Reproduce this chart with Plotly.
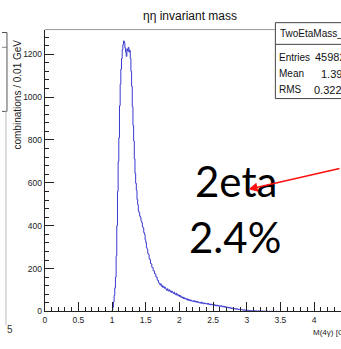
import numpy as np
import plotly.graph_objects as go

W, H = 341, 349

# ---- data: counts per 0.01 GeV bin, starting at 1.00 GeV ----
bin_start = 1.00
bin_width = 0.01
counts = [
    5, 20, 45, 75, 110, 160, 260, 400, 560, 700,
    810, 960, 1060, 1130, 1180, 1220, 1245, 1262, 1255, 1230,
    1210, 1190, 1225, 1215, 1232, 1210, 1218, 1180, 1120, 1050,
    955, 868, 795, 712, 645, 598, 566, 522, 498, 468,
    460, 445, 438, 421, 414, 396, 389, 368, 360, 335,
    322, 298, 290, 270, 266, 247, 241, 224, 222, 206,
    205, 190, 189, 176, 175, 161, 160, 146, 145, 134,
    131, 124, 129, 118, 121, 113, 117, 109, 114, 106,
    104, 99, 106, 95, 98, 101, 92, 96, 89, 93,
    88, 84, 90, 81, 79, 85, 76, 80, 73, 77,
    70, 74, 66, 69, 63, 67, 60, 64, 58, 61,
    56, 59, 53, 57, 51, 55, 49, 53, 50, 47,
    48, 51, 45, 49, 44, 47, 42, 46, 43, 40,
    42, 39, 44, 38, 41, 36, 40, 37, 39, 35,
    36, 38, 33, 37, 32, 35, 31, 34, 30, 33,
    31, 28, 32, 27, 30, 26, 29, 25, 28, 24,
    26, 24, 27, 22, 25, 21, 24, 20, 23, 19,
    21, 18, 20, 16, 19, 15, 18, 14, 16, 13,
    15, 12, 14, 11, 13, 10, 12, 9, 11, 9,
    10, 8, 9, 7, 8, 6, 8, 5, 7, 5,
    6, 4, 5, 3, 5, 4, 3, 4, 2, 3,
    4, 2, 3, 2, 3, 1, 2, 3, 1, 2,
    3, 1, 2, 1, 2, 1, 1, 2, 0, 1,
    2, 1, 0, 1, 1, 0, 1, 0, 1, 0,
    1, 0, 0, 1, 0, 0, 0, 0, 0, 0,
]
x_tickvals = [0, 0.5, 1, 1.5, 2, 2.5, 3, 3.5, 4]
x_ticktext = ["0", "0.5", "1", "1.5", "2", "2.5", "3", "3.5", "4"]
y_tickvals = [0, 200, 400, 600, 800, 1000, 1200]

title_text = "ηη invariant mass"
x_title = "M(4γ) [GeV]"
y_title = "combinations / 0.01 GeV"
stats_name = "TwoEtaMass_"
stats_labels = ["Entries", "Mean", "RMS"]
stats_values = ["45982", "1.393", "0.3227"]

# ---- helpers: pixel -> paper ----
def px(x):
    return x / W

def py(y):
    return 1 - y / H

edges = bin_start + bin_width * np.arange(len(counts) + 1)
xs = [edges[0]] + list(edges[:-1]) + [edges[-1]]
ys = [0] + counts + [0]

fig = go.Figure()
fig.add_trace(go.Scatter(
    x=xs, y=ys, mode="lines", line=dict(color="#3a3ad0", width=1, shape="hv"),
    hoverinfo="skip", showlegend=False,
))

narrow = "Liberation Sans Narrow, Liberation Sans, Arial"
tickfont = dict(family=narrow, size=8.5, color="#222")

fig.update_layout(
    width=W, height=H, margin=dict(l=0, r=0, t=0, b=0),
    paper_bgcolor="white", plot_bgcolor="white",
    xaxis=dict(
        domain=[px(43), 1], range=[0, 4.40], showgrid=False, zeroline=False,
        showline=True, linecolor="#222", linewidth=1,
        ticks="inside", ticklen=9, tickcolor="#222", tickwidth=1,
        tickvals=x_tickvals, ticktext=x_ticktext, tickfont=tickfont,
        minor=dict(ticks="inside", ticklen=4, dtick=0.1, tick0=0, tickcolor="#222"),
    ),
    yaxis=dict(
        domain=[py(316), py(30)], range=[0, 1315], showgrid=False, zeroline=False,
        showline=True, linecolor="#222", linewidth=1,
        ticks="inside", ticklen=9, tickcolor="#222", tickwidth=1,
        tickvals=y_tickvals, tickfont=tickfont,
        minor=dict(ticks="inside", ticklen=4, dtick=40, tick0=0, tickcolor="#222"),
    ),
)

shapes = []
annotations = []

# frame top line
shapes.append(dict(type="line", xref="paper", yref="paper",
                   x0=px(43), x1=px(275), y0=py(30), y1=py(30),
                   line=dict(color="#999", width=1)))

# stats box
shapes.append(dict(type="rect", xref="paper", yref="paper",
                   x0=px(275), x1=px(360), y0=py(100), y1=py(23),
                   line=dict(color="#444", width=1), fillcolor="white"))
shapes.append(dict(type="line", xref="paper", yref="paper",
                   x0=px(275), x1=px(360), y0=py(45), y1=py(45),
                   line=dict(color="#444", width=1)))
annotations.append(dict(xref="paper", yref="paper", x=px(278), y=py(34),
                        text=stats_name, showarrow=False, xanchor="left", yanchor="middle",
                        font=dict(family=narrow, size=10, color="#111")))
for lab, val, yy, vx in zip(stats_labels, stats_values, [58, 75, 91], [313, 319, 312]):
    annotations.append(dict(xref="paper", yref="paper", x=px(277), y=py(yy),
                            text=lab, showarrow=False, xanchor="left", yanchor="middle",
                            font=dict(family=narrow, size=10, color="#111")))
    annotations.append(dict(xref="paper", yref="paper", x=px(vx), y=py(yy),
                            text=val, showarrow=False, xanchor="left", yanchor="middle",
                            font=dict(family=narrow, size=11, color="#111")))

# title
annotations.append(dict(xref="paper", yref="paper", x=px(189), y=py(16),
                        text=title_text, showarrow=False, xanchor="center", yanchor="middle",
                        font=dict(family=narrow, size=12, color="#111")))

# axis titles
annotations.append(dict(xref="paper", yref="paper", x=px(16), y=py(96),
                        text=y_title, showarrow=False, textangle=-90,
                        xanchor="center", yanchor="middle",
                        font=dict(family="Liberation Sans, Arial", size=10, color="#222")))
annotations.append(dict(xref="paper", yref="paper", x=px(311), y=py(337),
                        text=x_title, showarrow=False, xanchor="left", yanchor="middle",
                        font=dict(family=narrow, size=8, color="#222")))

# slide text
annotations.append(dict(xref="paper", yref="paper", x=px(235), y=py(184),
                        text="2eta", showarrow=False, xanchor="center", yanchor="middle",
                        font=dict(family="Lato, Open Sans", size=42, color="black")))
annotations.append(dict(xref="paper", yref="paper", x=px(234), y=py(240),
                        text="2.4%", showarrow=False, xanchor="center", yanchor="middle",
                        font=dict(family="Lato, Open Sans", size=42, color="black")))

# red arrow (tail offset in pixels from the head)
annotations.append(dict(xref="paper", yref="paper", x=px(248), y=py(192),
                        ax=97, ay=-21, axref="pixel", ayref="pixel",
                        text="", showarrow=True, arrowhead=2, arrowsize=1.2,
                        arrowwidth=1.5, arrowcolor="#ff1010"))

# left-edge fragments of neighbouring slide content
shapes.append(dict(type="line", xref="paper", yref="paper",
                   x0=0, x1=px(5), y0=py(33), y1=py(33), line=dict(color="#555", width=1)))
shapes.append(dict(type="line", xref="paper", yref="paper",
                   x0=0, x1=px(5), y0=py(48), y1=py(48), line=dict(color="#888", width=1)))
shapes.append(dict(type="line", xref="paper", yref="paper",
                   x0=px(5), x1=px(5), y0=py(33), y1=py(113), line=dict(color="#555", width=1)))
shapes.append(dict(type="line", xref="paper", yref="paper",
                   x0=0, x1=px(5), y0=py(113), y1=py(113), line=dict(color="#555", width=1)))
shapes.append(dict(type="line", xref="paper", yref="paper",
                   x0=px(4), x1=px(4), y0=py(113), y1=py(330), line=dict(color="#bbb", width=1)))
annotations.append(dict(xref="paper", yref="paper", x=px(8), y=py(334),
                        text="5", showarrow=False, xanchor="center", yanchor="middle",
                        font=dict(family=narrow, size=10, color="#333")))

fig.update_layout(shapes=shapes, annotations=annotations)
fig.write_html("out.html")
